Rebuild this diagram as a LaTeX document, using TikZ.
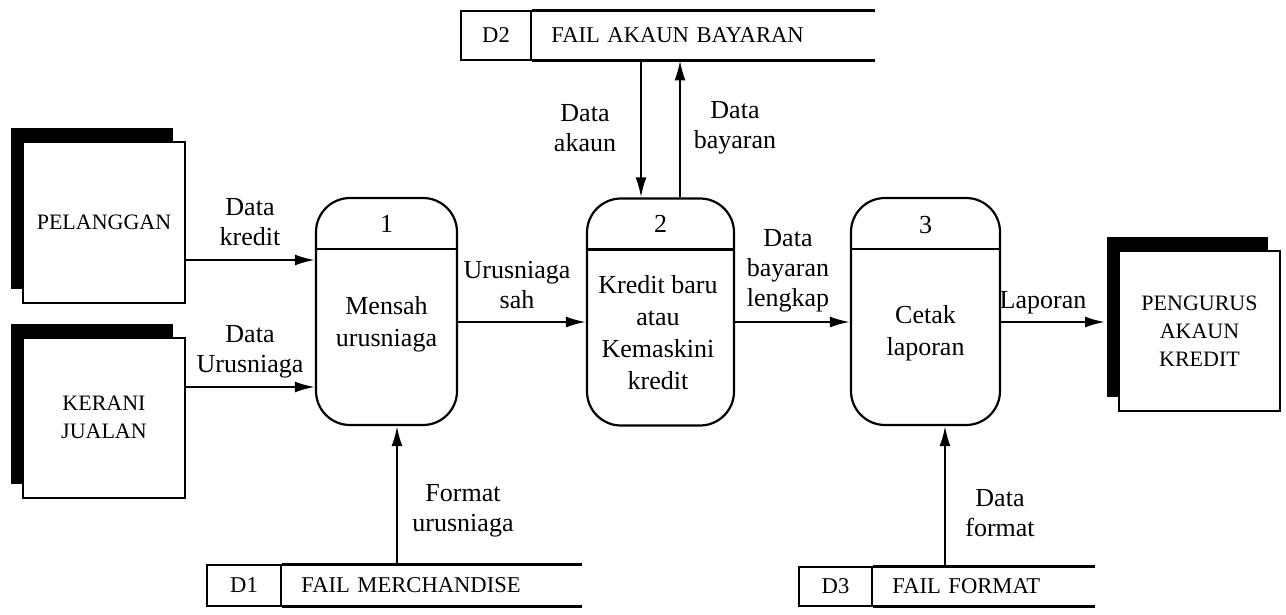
\documentclass[tikz,border=0pt]{standalone}
\usepackage{fontspec}
\setmainfont{Liberation Serif}
\usetikzlibrary{arrows.meta,shadows}

\begin{document}
\begin{tikzpicture}[x=0.5pt, y=-0.5pt]
    \tikzset{entity/.style={draw, fill=white, line width=1pt, minimum width=81pt, minimum height=80pt, align=center, font=\fontsize{11}{14}\selectfont, general shadow={fill=black, shadow xshift=-6pt, shadow yshift=7pt}}}
    \tikzset{process/.style={draw, line width=1.1pt, rounded corners=17pt, minimum height=113.5pt, minimum width=#1}}
    \tikzset{proctext/.style={align=center, font=\fontsize{13}{16}\selectfont}}
    \tikzset{storeid/.style={draw, line width=1pt, minimum width=#1, font=\fontsize{11.3}{13}\selectfont}}
    \tikzset{storename/.style={anchor=west, inner xsep=9.5pt, inner ysep=0pt, align=left, text width=#1, font=\fontsize{11.3}{13}\selectfont}}
    \tikzset{storeline/.style={line width=1.2pt}}
    \tikzset{flow/.style={-{Latex[length=10pt, width=5.5pt]}, line width=1.1pt}}
    \tikzset{flowlabel/.style={align=center, font=\fontsize{13}{15}\selectfont}}

    \useasboundingbox (0,0) rectangle (1286,615);

    \node[entity] (Pelanggan) at (104,222.5) {PELANGGAN};
    \node[entity] (Kerani) at (104,417.5) {KERANI\\JUALAN};
    \node[entity, minimum width=80.5pt] (Pengurus) at (1199.5,331) {PENGURUS\\AKAUN\\KREDIT};

    \node[process=70.5pt] (P1) at (386.5,311.5) {};
    \node[process=73.5pt] (P2) at (660.5,312) {};
    \node[process=74.5pt] (P3) at (925.5,311.5) {};
    \foreach \p in {P1,P2,P3}{
        \draw[line width=1.1pt] ([yshift=-26pt]\p.north west) -- ([yshift=-26pt]\p.north east);
    }
    \node[proctext] (Num1) at (386.5,224) {1};
    \node[proctext] (Num2) at (660.5,224) {2};
    \node[proctext] (Num3) at (925.5,225) {3};
    \node[proctext] (Mensah) at (386.5,324) {Mensah\\urusniaga};
    \node[proctext] (Kredit) at (658,333) {Kredit baru\\atau\\Kemaskini\\kredit};
    \node[proctext] (Cetak) at (925.5,333) {Cetak\\laporan};

    \node[storeid=35pt, minimum height=24.5pt] (D2id) at (496,35.5) {D2};
    \node[storename=152pt, minimum height=24.5pt] (D2name) at (D2id.east) {FAIL AKAUN BAYARAN};
    \node[storeid=37pt, minimum height=20.5pt] (D1id) at (244,585.5) {D1};
    \node[storename=130.5pt, minimum height=20.5pt] (D1name) at (D1id.east) {FAIL MERCHANDISE};
    \node[storeid=36.5pt, minimum height=19.5pt] (D3id) at (835.5,586.5) {D3};
    \node[storename=91.5pt, minimum height=19.5pt] (D3name) at (D3id.east) {FAIL FORMAT};
    \foreach \s in {D1name,D2name,D3name}{
        \draw[storeline] (\s.north west) -- (\s.north east) (\s.south west) -- (\s.south east);
    }

    \draw[flow] (Pelanggan.east |- 0,260) -- (P1.west |- 0,260);
    \draw[flow] (Kerani.east |- 0,387) -- (P1.west |- 0,387);
    \foreach \i/\j in {P1/P2,P2/P3}{
        \draw[flow] (\i.east |- 0,322) -- (\j.west |- 0,322);
    }
    \draw[flow, shorten >=6.5pt] (P3.east |- 0,322) -- (Pengurus.west |- 0,322);
    \draw[flow] (D2name.south -| 641,0) -- (P2.north -| 641,0);
    \draw[flow] (P2.north -| 680,0) -- (D2name.south -| 680,0);
    \draw[flow] (D1name.north -| 397,0) -- (P1.south -| 397,0);
    \draw[flow] (D3name.north -| 945,0) -- (P3.south -| 945,0);

    \node[flowlabel] (LKredit) at (250,222) {Data\\kredit};
    \node[flowlabel] (LUrus) at (250,352) {Data\\Urusniaga};
    \node[flowlabel] (LSah) at (517,285) {Urusniaga\\sah};
    \node[flowlabel] (LLengkap) at (788,271) {Data\\bayaran\\lengkap};
    \node[flowlabel] (LLaporan) at (1043,303) {Laporan};
    \node[flowlabel] (LAkaun) at (585,128) {Data\\akaun};
    \node[flowlabel] (LBayaran) at (735,128) {Data\\bayaran};
    \node[flowlabel] (LFormatU) at (463,511) {Format\\urusniaga};
    \node[flowlabel] (LFormat) at (1000,513) {Data\\format};
\end{tikzpicture}
\end{document}
